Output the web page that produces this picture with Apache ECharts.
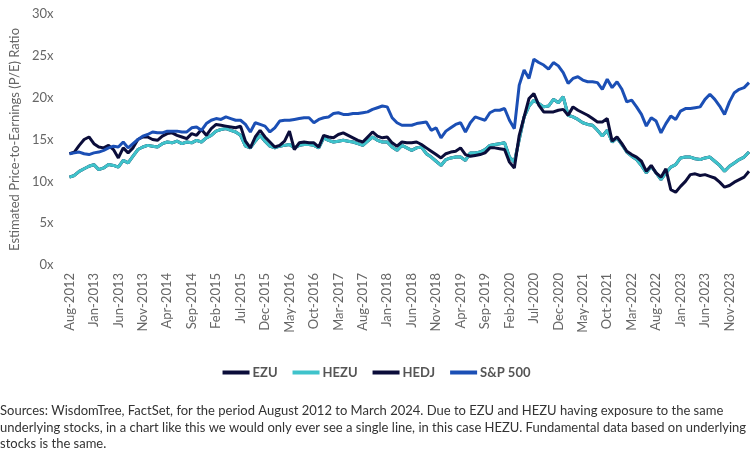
<!DOCTYPE html>
<html>
<head>
<meta charset="utf-8">
<script src="https://cdn.jsdelivr.net/npm/echarts@6/dist/echarts.min.js"></script>
<style>
  html, body { margin: 0; padding: 0; background: #fff; }
  #main { width: 753px; height: 459px; }
</style>
</head>
<body>
<div id="main"></div>
<script>
// monthly, Aug-2012 .. Mar-2024
var monthNames = ['Jan', 'Feb', 'Mar', 'Apr', 'May', 'Jun', 'Jul', 'Aug', 'Sep', 'Oct', 'Nov', 'Dec'];
var months = [];
for (var k = 0; k < 140; k++) {
  var m = (7 + k) % 12;
  var y = 2012 + Math.floor((7 + k) / 12);
  months.push(monthNames[m] + '-' + y);
}

var sp500 = [
  13.3, 13.4, 13.5, 13.3, 13.2, 13.4, 13.5, 13.7, 14.0, 14.2,
  14.1, 14.7, 14.0, 14.5, 15.0, 15.4, 15.6, 15.9, 15.8, 15.8,
  16.0, 16.0, 16.0, 15.9, 15.9, 16.4, 16.5, 16.1, 16.9, 17.3,
  17.5, 17.4, 17.7, 17.5, 17.3, 17.3, 16.8, 15.9, 17.0, 16.8,
  16.6, 15.9, 16.4, 17.2, 17.3, 17.3, 17.4, 17.5, 17.6, 17.6,
  17.0, 17.4, 17.6, 17.7, 18.1, 18.2, 18.0, 18.0, 18.1, 18.1,
  18.2, 18.3, 18.6, 18.8, 19.0, 18.9, 17.6, 17.0, 16.7, 16.7,
  16.7, 16.9, 17.0, 17.1, 16.1, 16.4, 15.2, 16.0, 16.4, 16.8,
  17.0, 15.9, 17.0, 17.7, 17.5, 17.3, 18.2, 18.5, 18.5, 18.7,
  17.3, 16.3, 21.5, 23.3, 22.3, 24.6, 24.2, 23.9, 23.4, 24.2,
  23.8, 23.0, 21.7, 22.3, 22.5, 22.1, 21.9, 21.9, 21.8, 21.0,
  22.2, 21.2, 21.9, 21.0, 19.5, 19.7, 18.9, 18.0, 16.6, 17.6,
  17.2, 15.8, 16.9, 17.8, 17.4, 18.4, 18.7, 18.7, 18.8, 18.9,
  19.8, 20.4, 19.8, 19.0, 18.0, 19.5, 20.6, 21.0, 21.2, 21.8
];

var hedj = [
  13.3, 13.5, 14.3, 15.0, 15.3, 14.5, 14.1, 14.0, 14.3, 13.8,
  12.8, 14.0, 13.4, 14.0, 15.0, 15.3, 15.3, 15.0, 14.9, 15.4,
  15.7, 15.8, 15.5, 15.3, 15.1, 15.7, 15.5, 16.2, 15.5, 16.3,
  16.8, 16.7, 16.6, 16.5, 16.4, 16.6, 14.8, 14.0, 15.3, 16.1,
  15.3, 14.7, 14.1, 14.3, 14.8, 16.0, 13.8, 14.6, 14.7, 14.6,
  14.6, 14.1, 15.5, 15.3, 15.2, 15.6, 15.8, 15.5, 15.2, 14.9,
  14.7, 15.3, 15.9, 15.4, 15.2, 15.3, 14.6, 14.2, 14.7, 14.6,
  14.6, 14.7, 14.4, 14.0, 13.6, 13.2, 12.8, 13.3, 13.5, 13.6,
  14.0, 13.2, 13.0, 13.1, 13.2, 13.4, 14.0, 14.0, 13.9, 13.8,
  12.3, 11.6, 15.5, 17.7, 19.9, 20.5, 19.1, 18.3, 18.3, 18.3,
  18.5, 18.6, 17.9, 18.9, 18.5, 18.2, 17.9, 17.5, 17.1, 17.1,
  17.5, 14.8, 15.3, 14.5, 13.6, 13.2, 12.9, 12.4, 11.2, 11.9,
  11.0, 10.5, 11.5, 9.0, 8.7, 9.4, 10.0, 10.8, 10.9, 10.7,
  10.8, 10.6, 10.4, 9.9, 9.3, 9.5, 9.9, 10.2, 10.5, 11.2
];

var hezu = [
  10.5, 10.7, 11.2, 11.5, 11.8, 12.0, 11.4, 11.6, 12.0, 11.9,
  11.7, 12.5, 12.2, 13.0, 13.8, 14.1, 14.3, 14.2, 14.1, 14.5,
  14.7, 14.6, 14.8, 14.5, 14.7, 14.6, 14.9, 14.7, 15.2, 15.5,
  16.0, 16.2, 16.3, 16.1, 15.9, 15.5, 14.2, 14.0, 14.8, 15.5,
  14.8, 14.2, 14.0, 14.2, 14.3, 14.4, 14.0, 14.3, 14.4, 14.4,
  14.3, 14.0, 15.2, 14.9, 14.7, 14.8, 14.9, 14.8, 14.7, 14.5,
  14.3, 14.8, 15.3, 14.9, 14.7, 14.7, 14.1, 13.7, 14.3, 14.0,
  13.7, 14.0, 14.1, 13.3, 12.9, 12.4, 11.9, 12.6, 12.8, 12.9,
  12.9, 12.5, 13.4, 13.4, 13.5, 13.8, 14.3, 14.4, 14.5, 14.6,
  12.9, 12.3, 15.0, 17.7, 19.0, 19.7, 19.3, 18.9, 19.0, 19.8,
  19.4, 20.1, 17.9, 17.7, 17.4, 17.0, 16.8, 16.7, 16.1, 15.4,
  16.1, 14.7, 15.2, 14.4, 13.5, 13.0, 12.6, 11.9, 11.0, 11.8,
  11.0, 10.2, 11.0, 11.7, 12.0, 12.8, 12.9, 12.9, 12.7, 12.6,
  12.8, 12.9, 12.4, 11.9, 11.2, 11.8, 12.2, 12.6, 12.9, 13.5
];

// EZU has the same underlying stocks as HEZU, so it sits under the HEZU line
var ezu = hezu.slice();

var navy = '#0b0d3a';
var teal = '#3fc3cb';
var blue = '#1b4fb5';

var myChart = echarts.init(document.getElementById('main'));

var option = {
  backgroundColor: '#fff',
  animation: false,
  textStyle: { fontFamily: 'Lato, sans-serif' },
  grid: {
    left: 61,
    right: 4,
    top: 14,
    bottom: 194
  },
  legend: {
    top: 361,
    left: 'center',
    itemWidth: 27,
    itemHeight: 4,
    itemGap: 15,
    icon: 'rect',
    textStyle: {
      color: '#555',
      fontWeight: 'bold',
      fontSize: 13,
      padding: [0, 0, 0, -2]
    },
    data: ['EZU', 'HEZU', 'HEDJ', 'S&P 500']
  },
  xAxis: {
    type: 'category',
    boundaryGap: false,
    data: months,
    axisLine: { show: false },
    axisTick: { show: false },
    axisLabel: {
      interval: 4,
      rotate: 90,
      color: '#666',
      fontSize: 13,
      margin: 8
    }
  },
  yAxis: {
    type: 'value',
    min: 0,
    max: 30,
    interval: 5,
    name: 'Estimated Price-to-Earnings (P/E) Ratio',
    nameLocation: 'middle',
    nameGap: 48,
    nameTextStyle: { color: '#666', fontSize: 13 },
    splitLine: { show: false },
    axisLine: { show: false },
    axisTick: { show: false },
    axisLabel: {
      formatter: '{value}x',
      color: '#666',
      fontSize: 13,
      margin: 16
    }
  },
  series: [
    {
      name: 'EZU', type: 'line', data: ezu, showSymbol: false,
      itemStyle: { color: navy }, lineStyle: { width: 3, color: navy }
    },
    {
      name: 'HEZU', type: 'line', data: hezu, showSymbol: false,
      itemStyle: { color: teal }, lineStyle: { width: 3, color: teal }
    },
    {
      name: 'HEDJ', type: 'line', data: hedj, showSymbol: false,
      itemStyle: { color: navy }, lineStyle: { width: 3, color: navy }
    },
    {
      name: 'S&P 500', type: 'line', data: sp500, showSymbol: false,
      itemStyle: { color: blue }, lineStyle: { width: 3, color: blue }
    }
  ],
  graphic: [{
    type: 'text',
    left: 0,
    top: 403,
    style: {
      text: 'Sources: WisdomTree, FactSet, for the period August 2012 to March 2024. Due to EZU and HEZU having exposure to the same\n' +
        'underlying stocks, in a chart like this we would only ever see a single line, in this case HEZU. Fundamental data based on underlying\n' +
        'stocks is the same.',
      fill: '#333',
      font: '13px "Liberation Sans Narrow", "Lato", sans-serif',
      lineHeight: 16.5
    }
  }]
};

myChart.setOption(option);
</script>
</body>
</html>
